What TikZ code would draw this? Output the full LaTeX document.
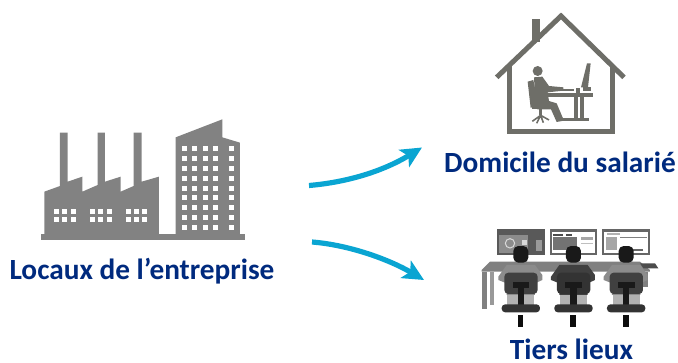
\documentclass[tikz,border=0pt]{standalone}
\usepackage{fontspec}
\setmainfont{Carlito}
\usetikzlibrary{arrows.meta}
\definecolor{labelblue}{HTML}{002A7E}
\definecolor{arrowblue}{HTML}{0AA5D2}
\definecolor{factorygrey}{HTML}{828282}
\definecolor{housegrey}{HTML}{6E6E68}
\begin{document}
\begin{tikzpicture}[x=1pt,y=-1pt]
\tikzstyle{every node}+=[inner sep=0pt]
\tikzstyle{label}=[font=\bfseries\fontsize{29.3}{30}\selectfont,text=labelblue,anchor=base]
\tikzstyle{link}=[draw=arrowblue,line width=5.2pt,-{Stealth[length=21pt,width=20pt,inset=5pt]}]
\useasboundingbox (0,0) rectangle (678,362);
% factory and tower
\begin{scope}[shift={(30,110)},scale=0.3333]
\fill [factorygrey] (33,372) rectangle (645,390);
\fill [factorygrey] (43,372) -- (43,245) -- (90,228) -- (90,68) -- (113,68) -- (113,215) -- (157,200) -- (157,245) -- (203,225) -- (203,68) -- (225,68) -- (225,215) -- (272,200) -- (272,245) -- (311,228) -- (311,68) -- (335,68) -- (335,215) -- (387,200) -- (387,372) -- cycle;
\fill [factorygrey] (437,372) -- (437,82) -- (577,28) -- (577,82) -- (630,98) -- (630,372) -- cycle;
\foreach \gx in {72,180,287}
  \foreach \wx in {0,25,50}
    \foreach \wy in {297,322}
      \fill [white] (\gx+\wx,\wy) rectangle +(15,15);
\foreach \wx in {455,487,518,549,596}
  \foreach \wy in {108,137.7,167.4,197.1,226.8,256.5,286.2,315.9,345.6}
    \fill [white] (\wx,\wy) rectangle +(15,15);
\end{scope}
% house and person at desk
\begin{scope}[shift={(480,0)},scale=0.3333]
\fill [housegrey] (155,57) rectangle (180,125);
\draw [housegrey,line width=5pt] (50,232) -- (243,48) -- (432,232);
\draw [housegrey,line width=5pt] (88,195) -- (88,396) -- (398,396) -- (398,195);
\fill [housegrey] (173,213) circle (15);
\fill [housegrey] (143,245) -- (160,240) -- (174,310) -- (152,324) -- cycle;
\fill [housegrey] (162,232) -- (187,230) -- (207,258) -- (250,262) -- (250,272) -- (203,277) -- (207,303) -- (230,310) -- (252,362) -- (230,366) -- (213,328) -- (172,328) -- (165,290) -- cycle;
\fill [housegrey] (155,312) rectangle (212,328);
\fill [housegrey] (178,328) rectangle (187,346);
\draw [housegrey,line width=1.6pt] (157,364) -- (182,346) -- (207,360) (170,370) -- (182,346) -- (190,368);
\fill [housegrey] (200,278) rectangle (338,292);
\fill [housegrey] (283,292) rectangle (295,355);
\fill [housegrey] (301,292) rectangle (313,355);
\fill [housegrey] (240,354) rectangle (326,364);
\fill [housegrey] (303,262) -- (321,190) -- (332,190) -- (324,262) -- cycle;
\fill [housegrey] (308,262) rectangle (332,272);
\fill [housegrey] (287,265) rectangle (301,279);
\fill [housegrey] (245,267) rectangle (282,273);
\end{scope}
% desk with three people
\begin{scope}[shift={(470,220)},scale=0.3333]
\fill [black!65] (80,28) rectangle (225,105);
\fill [black!45] (88,45) rectangle (175,98);
\draw [black!15,line width=1pt] (120,70) circle (14);
\fill [black!15] (155,60) rectangle (170,75);
\fill [black!40] (198,60) rectangle (215,92);
\fill [black!60] (240,28) rectangle (382,105);
\fill [white] (247,35) rectangle (375,98);
\fill [black!70] (250,42) rectangle (280,47);
\fill [black!70] (288,42) rectangle (305,47);
\fill [black!55] (250,52) rectangle (320,90);
\fill [black!35] (332,52) rectangle (370,60);
\fill [black!25] (332,68) rectangle (370,73);
\fill [black!60] (397,28) rectangle (540,105);
\fill [white] (403,35) rectangle (533,98);
\fill [black!35] (408,50) rectangle (440,90);
\fill [black!30] (410,38) rectangle (450,44);
\fill [black!50] (450,50) rectangle (530,54);
\fill [black!60] (490,88) rectangle (520,92);
\fill [black!50] (35,155) -- (35,150) -- (60,125) -- (510,125) -- (540,150) -- (540,155) -- cycle;
\fill [black!50] (37,155) rectangle (52,268);
\fill [black!40] (60,155) rectangle (72,255);
\fill [black!50] (520,155) rectangle (535,200);
\fill [black!70] (510,130) -- (555,130) -- (565,145) -- (520,145) -- cycle;
\foreach \ox/\ctorso/\cback in {0/45/75,158/75/80,316/45/75} {
  \begin{scope}[xshift=\ox]
  \fill [black!30] (112,222) rectangle (193,255);
  \fill [black!\ctorso] (85,170) -- (110,135) -- (195,135) -- (217,165) -- (217,180) -- (195,190) -- (195,225) -- (110,225) -- (110,190) -- (85,180) -- cycle;
  \fill [black!\cback,rounded corners=4pt] (103,158) rectangle (203,222);
  \fill [black!90,rounded corners=5pt] (130,78) rectangle (175,128);
  \fill [black!90] (128,185) rectangle (178,205);
  \fill [black!90] (143,205) rectangle (162,265);
  \fill [black!80,rounded corners=3.5pt] (95,253) rectangle (210,277);
  \fill [black!95] (143,285) rectangle (160,322);
  \end{scope}
}
\end{scope}
% labels
\node [label] (locaux) at (142,279) {Locaux de l’entreprise};
\node [label] (domicile) at (560,172.5) {Domicile du salarié};
\node [label] (tiers) at (571.5,359) {Tiers lieux};
% arrows
\coordinate (startup) at (309,185.5);
\coordinate (endup) at (422,147.5);
\coordinate (startdown) at (312,242);
\coordinate (enddown) at (424,280);
\draw [link] (startup) .. controls (350,182) and (385,170) .. (endup);
\draw [link] (startdown) .. controls (350,245) and (390,260) .. (enddown);
\end{tikzpicture}
\end{document}
